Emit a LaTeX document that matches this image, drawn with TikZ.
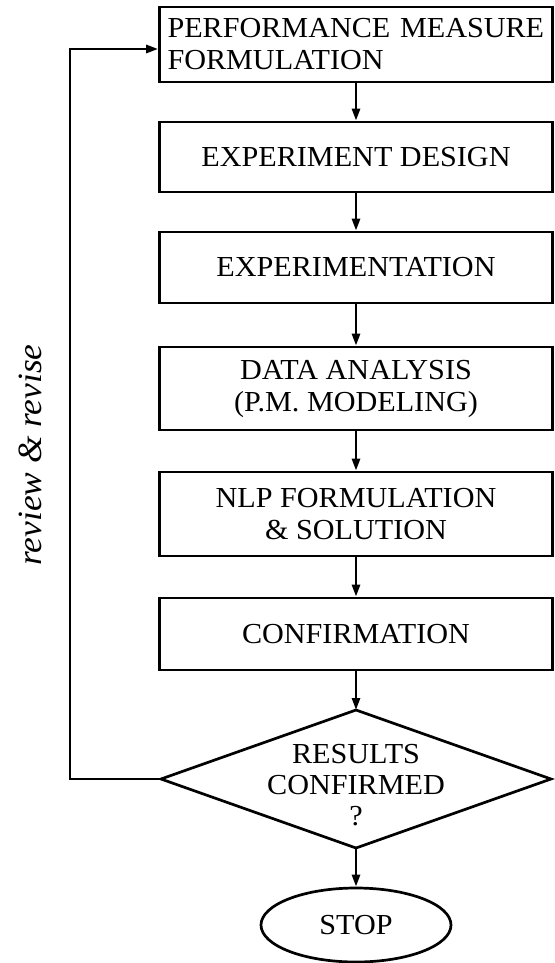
\documentclass[tikz,border=0pt]{standalone}
\usepackage{fontspec}
\setmainfont{Liberation Serif}[FakeStretch=1.04]
\usetikzlibrary{arrows.meta,shapes.geometric}
\tikzset{
  boxnode/.style={draw, line width=2.7pt, rectangle, minimum width=393pt, inner sep=0pt,
    font=\fontsize{29}{32}\selectfont, align=center},
  flow/.style={line width=2.7pt, -{Triangle[length=12pt,width=8pt]}},
  txt/.style={font=\fontsize{29}{31}\selectfont, align=center, inner sep=0pt}
}
\begin{document}
\begin{tikzpicture}[x=1pt,y=-1pt]
\useasboundingbox (0,0) rectangle (554,963);
\node[boxnode, minimum height=75pt, text width=377pt, align=left] (b1) at (356,44.5)
  {PERFORMANCE MEASURE\\FORMULATION};
\node[boxnode, minimum height=70pt] (b2) at (356,157) {EXPERIMENT DESIGN};
\node[boxnode, minimum height=71pt] (b3) at (356,267.5) {EXPERIMENTATION};
\node[boxnode, minimum height=83pt] (b4) at (356,388.5) {DATA ANALYSIS\\(P.M. MODELING)};
\node[boxnode, minimum height=84pt] (b5) at (356,514) {NLP FORMULATION\\\&~SOLUTION};
\node[boxnode, minimum height=72pt] (b6) at (356,634) {CONFIRMATION};
\node[draw, line width=2.7pt, diamond, minimum width=390pt, minimum height=138pt, inner sep=0pt, outer sep=0pt] (dia) at (356,779) {};
\node[txt] (diatext) at (356,785) {RESULTS\\CONFIRMED\\?};
\node[draw, line width=2.7pt, ellipse, minimum width=190pt, minimum height=74pt, inner sep=0pt,
  font=\fontsize{29}{32}\selectfont] (stop) at (356,925) {STOP};
\coordinate (lc1) at (70,779);
\coordinate (lc2) at (70,49);
\draw[flow] (b1) -- (b2);
\draw[flow] (b2) -- (b3);
\draw[flow] (b3) -- (b4);
\draw[flow] (b4) -- (b5);
\draw[flow] (b5) -- (b6);
\draw[flow] (b6) -- (dia.north);
\draw[flow] (dia.south) -- (stop.north);
\draw[flow] (dia.west) -- (lc1) -- (lc2) -- (lc2 -| b1.west);
\node[rotate=90, font=\fontsize{34}{36}\itshape\selectfont, inner sep=0pt] (rr) at (30,455) {review \& revise};
\end{tikzpicture}
\end{document}
